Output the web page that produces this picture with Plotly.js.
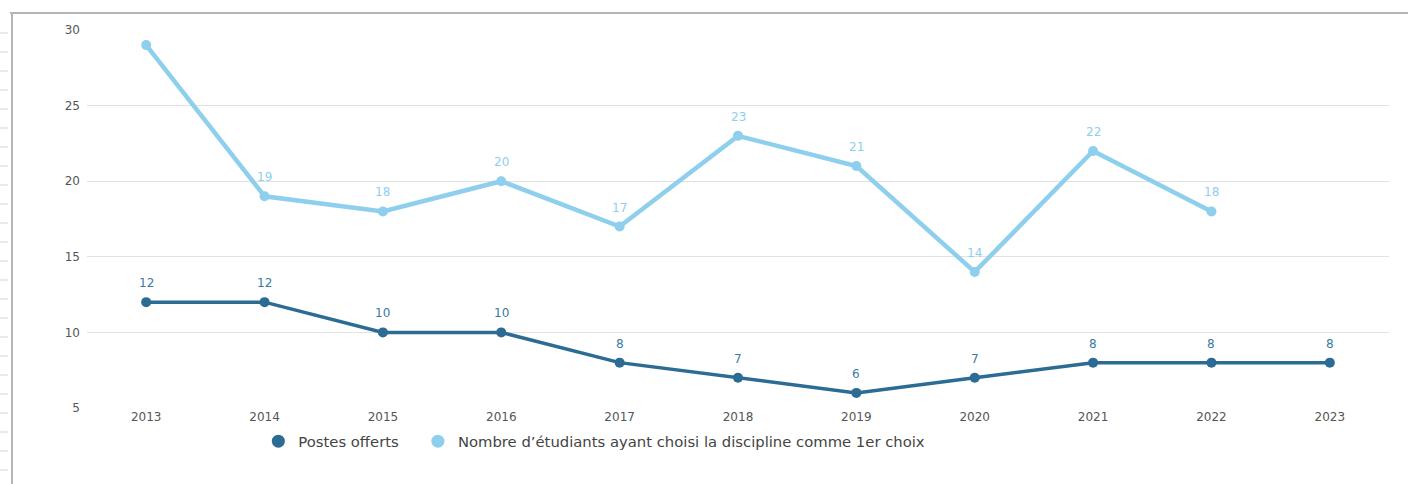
<!DOCTYPE html>
<html>
<head>
<meta charset="utf-8">
<script src="https://cdn.plot.ly/plotly-3.0.1.min.js"></script>
<style>
html,body{margin:0;padding:0;background:#fff;}
#chart{width:1408px;height:484px;}
</style>
</head>
<body>
<div id="chart"></div>
<script>
const years = ["2013","2014","2015","2016","2017","2018","2019","2020","2021","2022","2023"];
const postesOfferts = [12,12,10,10,8,7,6,7,8,8,8];
const etudiants1erChoix = [29,19,18,20,17,23,21,14,22,18,null];
const etudiantsLabels = ["","19","18","20","17","23","21","14","22","18",""];
const seriesNames = ["Postes offerts","Nombre d’étudiants ayant choisi la discipline comme 1er choix"];
const yTicks = [5,10,15,20,25,30];

const darkColor = "#2c6b93";
const lightColor = "#8dcfec";
const FONT = "DejaVu Sans";

const traces = [
  {x: years, y: etudiants1erChoix, mode: "lines+markers", showlegend: false,
   line: {color: lightColor, width: 4.5}, marker: {color: lightColor, size: 10}, hoverinfo: "skip"},
  {x: years, y: postesOfferts, mode: "lines+markers", showlegend: false,
   line: {color: darkColor, width: 3.5}, marker: {color: darkColor, size: 10}, hoverinfo: "skip"},
  {x: [years[0]], y: [null], mode: "markers", name: seriesNames[0] + "\u00a0\u00a0\u00a0", showlegend: true,
   marker: {color: darkColor, size: 13}},
  {x: [years[0]], y: [null], mode: "markers", name: seriesNames[1], showlegend: true,
   marker: {color: lightColor, size: 13}}
];

const annotations = [];
years.forEach((yr, i) => {
  if (etudiants1erChoix[i] !== null && etudiantsLabels[i] !== "") {
    annotations.push({x: i, y: etudiants1erChoix[i], text: etudiantsLabels[i], showarrow: false,
      yshift: 19, font: {family: FONT, size: 12, color: lightColor}});
  }
  annotations.push({x: i, y: postesOfferts[i], text: String(postesOfferts[i]), showarrow: false,
    yshift: 19, font: {family: FONT, size: 12, color: "#3a7aa3"}});
});

// frame of the screenshot (decoration)
const shapes = [
  {type: "line", xref: "paper", yref: "paper", x0: -0.0591, x1: 1.02, y0: 1.045, y1: 1.045,
   line: {color: "#b5b5b5", width: 2}},
  {type: "line", xref: "paper", yref: "paper", x0: -0.0576, x1: -0.0576, y0: 1.045, y1: -0.21,
   line: {color: "#b5b5b5", width: 2}}
];
for (let k = 0; k < 24; k++) {
  const py = 33 + k * 19;
  if (py > 484) break;
  shapes.push({type: "line", xref: "paper", yref: "paper", x0: -0.0668, x1: -0.0607,
    y0: (408 - py) / 378, y1: (408 - py) / 378, line: {color: "#d5d5d5", width: 1}});
}

const layout = {
  width: 1408, height: 484,
  margin: {l: 87, r: 19, t: 30, b: 76},
  paper_bgcolor: "#fff", plot_bgcolor: "#fff",
  font: {family: FONT, color: "#555"},
  showlegend: true,
  legend: {orientation: "h", x: 0.1316, y: -0.045, xanchor: "left", yanchor: "top",
    font: {family: FONT, size: 14.8, color: "#444"}},
  xaxis: {type: "category", categoryorder: "array", categoryarray: years, range: [-0.5, 10.5],
    showgrid: false, zeroline: false, showline: false, ticks: "",
    tickfont: {family: FONT, size: 12, color: "#555"}, fixedrange: true},
  yaxis: {range: [5, 30], tickvals: yTicks, showgrid: true, gridcolor: "#e2e2e2", gridwidth: 1,
    zeroline: false, showline: false, ticks: "", ticklabelstandoff: 6,
    tickfont: {family: FONT, size: 12, color: "#555"}, fixedrange: true},
  annotations: annotations,
  shapes: shapes
};

Plotly.newPlot("chart", traces, layout, {displayModeBar: false, staticPlot: true});
</script>
</body>
</html>
